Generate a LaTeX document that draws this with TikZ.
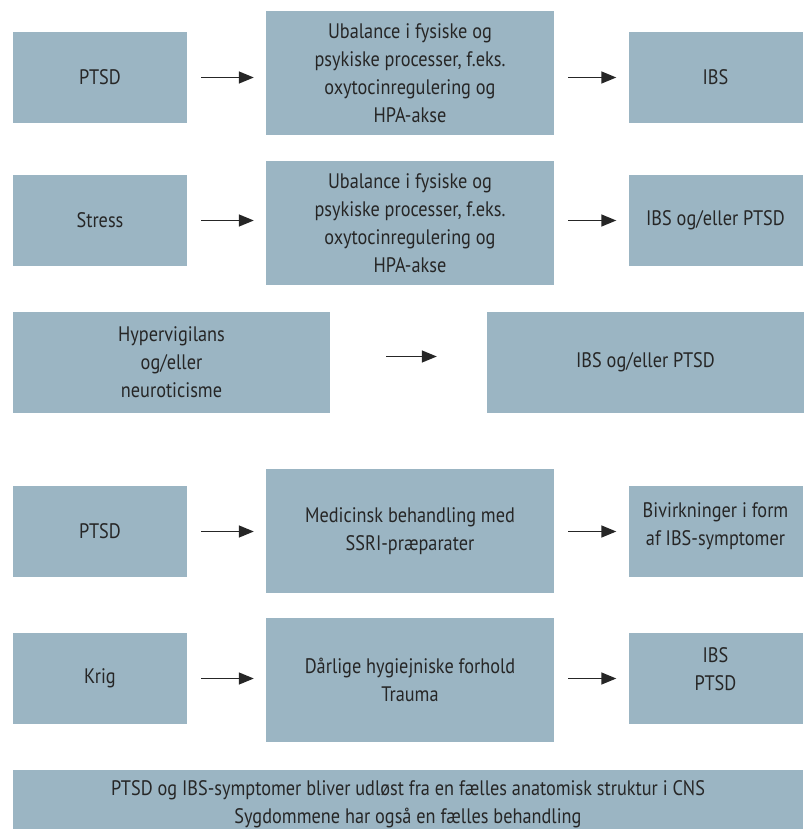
\documentclass[tikz,border=0pt]{standalone}
\usepackage{fontspec}
\setmainfont{PT Sans}[FakeStretch=0.87]
\usepackage{xcolor}
\usepackage{tikz}
\usetikzlibrary{arrows.meta}
\definecolor{boksblaa}{HTML}{9BB5C3}
\definecolor{tekstgraa}{HTML}{262626}

\begin{document}
\begin{tikzpicture}[x=1pt,y=-1pt,
	boks/.style={fill=boksblaa, text=tekstgraa, align=center, inner sep=0pt,
		font=\fontsize{21}{28}\selectfont},
	lille/.style={boks, minimum width=174pt, minimum height=91pt},
	midt/.style={boks, minimum width=288pt, minimum height=124pt},
	bred/.style={boks, minimum width=317pt, minimum height=101pt},
	pil/.style={-{Triangle[length=15pt,width=12pt]}, line width=1.4pt, draw=tekstgraa,
		shorten <=14pt, shorten >=12pt}]
			% Ramme
			\useasboundingbox (0,0) rectangle (806,829);
			\clip (0,0) rectangle (806,829);
			% Række 1
			\node[lille] (ptsdA) at (100,77.5) {PTSD};
			\node[midt] (ubalA) at (410,73) {Ubalance i fysiske og\\psykiske processer, f.eks.\\oxytocinregulering og\\HPA-akse};
			\node[lille] (ibsA) at (715.5,77.5) {IBS};
			% Række 2
			\node[lille] (stress) at (100,220.5) {Stress};
			\node[midt] (ubalB) at (410,223) {Ubalance i fysiske og\\psykiske processer, f.eks.\\oxytocinregulering og\\HPA-akse};
			\node[lille] (ibsB) at (715.5,220.5) {IBS og/eller PTSD};
			% Række 3
			\node[bred] (hyper) at (171.5,362.5) {Hypervigilans\\og/eller\\neuroticisme};
			\node[bred] (ibsD) at (645.5,362.5) {IBS og/eller PTSD};
			% Række 4
			\node[lille] (ptsdB) at (100,531.5) {PTSD};
			\node[midt] (medicin) at (410,531) {Medicinsk behandling med\\SSRI-præparater};
			\node[lille, text depth=15pt] (bivirk) at (715.5,531.5) {Bivirkninger i form\\af IBS-symptomer};
			% Række 5
			\node[lille] (krig) at (100,678.5) {Krig};
			\node[midt] (hygiejne) at (410,680) {Dårlige hygiejniske forhold\\Trauma};
			\node[lille, text depth=18pt] (ibsC) at (715.5,678.5) {IBS\\PTSD};
			% Fælles boks nederst
			\node[boks, minimum width=790pt, minimum height=68pt] (faelles) at (408,804)
				{PTSD og IBS-symptomer bliver udløst fra en fælles anatomisk struktur i CNS\\Sygdommene har også en fælles behandling};
			% Pile
			\foreach \v/\m/\h in {ptsdA/ubalA/ibsA, stress/ubalB/ibsB, ptsdB/medicin/bivirk, krig/hygiejne/ibsC}
			{
				\draw[pil] (\v.east) -- (\v.east -| \m.west);
				\draw[pil] (\h.west -| \m.east) -- (\h.west);
			}
			\draw[pil, shorten <=56pt, shorten >=50pt] ([yshift=6pt]hyper.east) -- ([yshift=6pt]ibsD.west);
		\end{tikzpicture}
\end{document}
